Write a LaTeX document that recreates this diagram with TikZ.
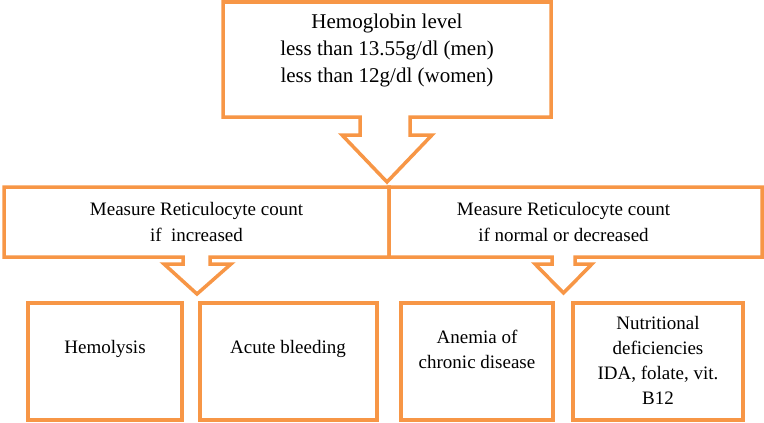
\documentclass[tikz,border=0pt]{standalone}
\usepackage{fontspec}
\setmainfont{Liberation Serif}
\definecolor{boxorange}{HTML}{F79646}
\begin{document}
\begin{tikzpicture}[x=1pt,y=-1pt,
  shapeline/.style={draw=boxorange,line width=3.5pt,line join=miter,fill=white},
  bigtext/.style={align=center,font=\fontsize{21}{27}\selectfont,inner sep=0pt},
  midtext/.style={align=center,font=\fontsize{19}{26}\selectfont,inner sep=0pt},
  smalltext/.style={align=center,font=\fontsize{19}{25}\selectfont,inner sep=0pt}]
\useasboundingbox (0,0) rectangle (764,423);
% top callout
\draw[shapeline] (223,2) -- (551,2) -- (551,117) -- (410,117) -- (410,135) -- (432,135)
  -- (387,182) -- (342,135) -- (360,135) -- (360,117) -- (223,117) -- cycle;
% middle left callout
\draw[shapeline] (4,187) -- (389,187) -- (389,257) -- (210,257) -- (210,264) -- (231,264)
  -- (197,294) -- (164,264) -- (183,264) -- (183,257) -- (4,257) -- cycle;
% middle right callout
\draw[shapeline] (389,187) -- (762,187) -- (762,257) -- (575,257) -- (575,264) -- (592,264)
  -- (563.5,293) -- (535,264) -- (552,264) -- (552,257) -- (389,257) -- cycle;
% bottom boxes
\draw[shapeline] (28,303) rectangle (182,420);
\draw[shapeline] (200,303) rectangle (377,420);
\draw[shapeline] (401,303) rectangle (553,420);
\draw[shapeline] (573,303) rectangle (743,420);
% texts
\node[bigtext] (hb) at (387,50) {Hemoglobin level\\less than 13.55g/dl (men)\\less than 12g/dl (women)};
\node[midtext] (inc) at (196.5,222) {Measure Reticulocyte count\\if~~increased};
\node[midtext] (dec) at (563.5,222) {Measure Reticulocyte count\\if normal or decreased};
\node[smalltext] (hem) at (105,349) {Hemolysis};
\node[smalltext] (ab) at (288,349) {Acute bleeding};
\node[smalltext] (acd) at (477,349) {Anemia of\\chronic disease};
\node[smalltext] (nut) at (658,360) {Nutritional\\deficiencies\\IDA, folate, vit.\\B12};
\end{tikzpicture}
\end{document}
